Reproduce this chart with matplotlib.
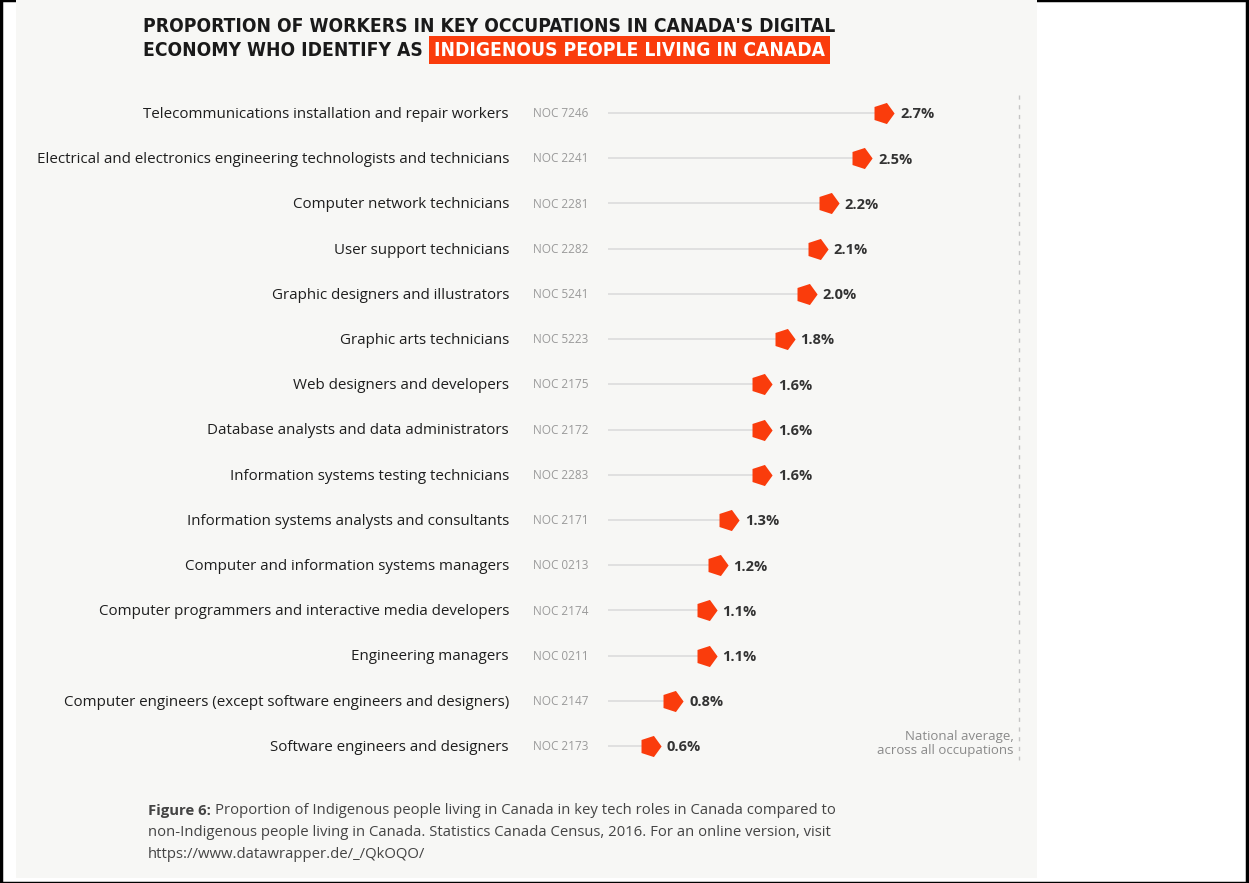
import matplotlib.pyplot as plt
import matplotlib.patches as patches
from matplotlib.text import Annotation

occupations = [
    "Telecommunications installation and repair workers",
    "Electrical and electronics engineering technologists and technicians",
    "Computer network technicians",
    "User support technicians",
    "Graphic designers and illustrators",
    "Graphic arts technicians",
    "Web designers and developers",
    "Database analysts and data administrators",
    "Information systems testing technicians",
    "Information systems analysts and consultants",
    "Computer and information systems managers",
    "Computer programmers and interactive media developers",
    "Engineering managers",
    "Computer engineers (except software engineers and designers)",
    "Software engineers and designers",
]
noc_codes = ["NOC 7246", "NOC 2241", "NOC 2281", "NOC 2282", "NOC 5241",
             "NOC 5223", "NOC 2175", "NOC 2172", "NOC 2283", "NOC 2171",
             "NOC 0213", "NOC 2174", "NOC 0211", "NOC 2147", "NOC 2173"]
shares = [2.7, 2.5, 2.2, 2.1, 2.0, 1.8, 1.6, 1.6, 1.6, 1.3, 1.2, 1.1, 1.1, 0.8, 0.6]
national_avg = 3.92
x_min = 0.22

RED = '#fa3c0c'
BG = '#f7f7f5'
W, H = 1249, 883

fig = plt.figure(figsize=(W / 100, H / 100), dpi=100)
fig.patch.set_facecolor('white')

# frame + grey panel (behind the axes)
fig.add_artist(patches.Rectangle((1 / W, 0), (W - 3) / W, 1, transform=fig.transFigure,
                                 fill=False, edgecolor='black', linewidth=2.5, zorder=-2))
fig.add_artist(patches.Rectangle((16 / W, 5 / H), (1037 - 16) / W, (H - 5) / H,
                                 transform=fig.transFigure, facecolor=BG, edgecolor='none',
                                 zorder=-1))

# chart axes in pixel placement
left, right = 608, 1019
top, bottom = 113 - 22.6, 746 + 22.6
ax = fig.add_axes([left / W, 1 - bottom / H, (right - left) / W, (bottom - top) / H])
ax.set_xlim(x_min, national_avg)
ax.set_ylim(len(shares) - 0.5, -0.5)
ax.axis('off')

for i, (name, code, v) in enumerate(zip(occupations, noc_codes, shares)):
    ax.plot([x_min, v], [i, i], color='#dcdcdc', linewidth=1.2, zorder=1)
    ax.plot(v, i, marker=(5, 0, -90), markersize=16, color=RED,
            markeredgewidth=0, zorder=3)
    ax.annotate(f"{v:.1f}%", (v, i), xytext=(12, -1), textcoords='offset points',
                ha='left', va='center', fontsize=10.5, fontweight='bold',
                color='#333333', family='Open Sans', annotation_clip=False)
    ax.annotate(name, (x_min, i), xytext=(-71.3, -1), textcoords='offset points',
                ha='right', va='center', fontsize=10.9, color='#1e1e1e',
                family='Open Sans', annotation_clip=False)
    ax.annotate(code, (x_min, i), xytext=(-54, -0.5), textcoords='offset points',
                ha='left', va='center', fontsize=8.5, color='#9a9a9a',
                family='Open Sans', annotation_clip=False)

# national average marker
ax.plot([national_avg, national_avg], [-0.4, len(shares) - 0.7], color='#c4c4c4',
        linewidth=1, linestyle=(0, (3, 4)), clip_on=False)
ax.text(national_avg - 0.05, len(shares) - 1.05, "National average,\nacross all occupations",
        ha='right', va='center', fontsize=9.5, color='#8a8a8a', linespacing=1.1,
        family='Open Sans')

# title
tfont = dict(family='DejaVu Sans', fontstretch='condensed', fontweight='bold',
             fontsize=13.8, color='#1a1a1a')
fig.text(143 / W, 1 - 26 / H, "PROPORTION OF WORKERS IN KEY OCCUPATIONS IN CANADA'S DIGITAL",
         ha='left', va='center', **tfont)
t2 = fig.text(143 / W, 1 - 50 / H, "ECONOMY WHO IDENTIFY AS", ha='left', va='center', **tfont)
fig.add_artist(Annotation("INDIGENOUS PEOPLE LIVING IN CANADA", xy=(1, 0.5), xycoords=t2,
                          xytext=(8, 0), textcoords='offset points', ha='left', va='center',
                          bbox=dict(boxstyle='square,pad=0.25', facecolor=RED, edgecolor='none'),
                          **dict(tfont, color='white')))

# caption
cfont = dict(family='Open Sans', fontsize=10.7, color='#444444')
c1 = fig.text(148 / W, 1 - 811 / H, "Figure 6:", ha='left', va='center', fontweight='bold',
              **cfont)
fig.add_artist(Annotation(
    "Proportion of Indigenous people living in Canada in key tech roles in Canada compared to",
    xy=(1, 0.5), xycoords=c1, xytext=(3, 0), textcoords='offset points',
    ha='left', va='center', **cfont))
fig.text(148 / W, 1 - 832 / H,
         "non-Indigenous people living in Canada. Statistics Canada Census, 2016. For an online version, visit",
         ha='left', va='center', **cfont)
fig.text(148 / W, 1 - 854 / H, "https://www.datawrapper.de/_/QkOQO/",
         ha='left', va='center', **cfont)

fig.savefig('out.png', dpi=100, facecolor='white')
